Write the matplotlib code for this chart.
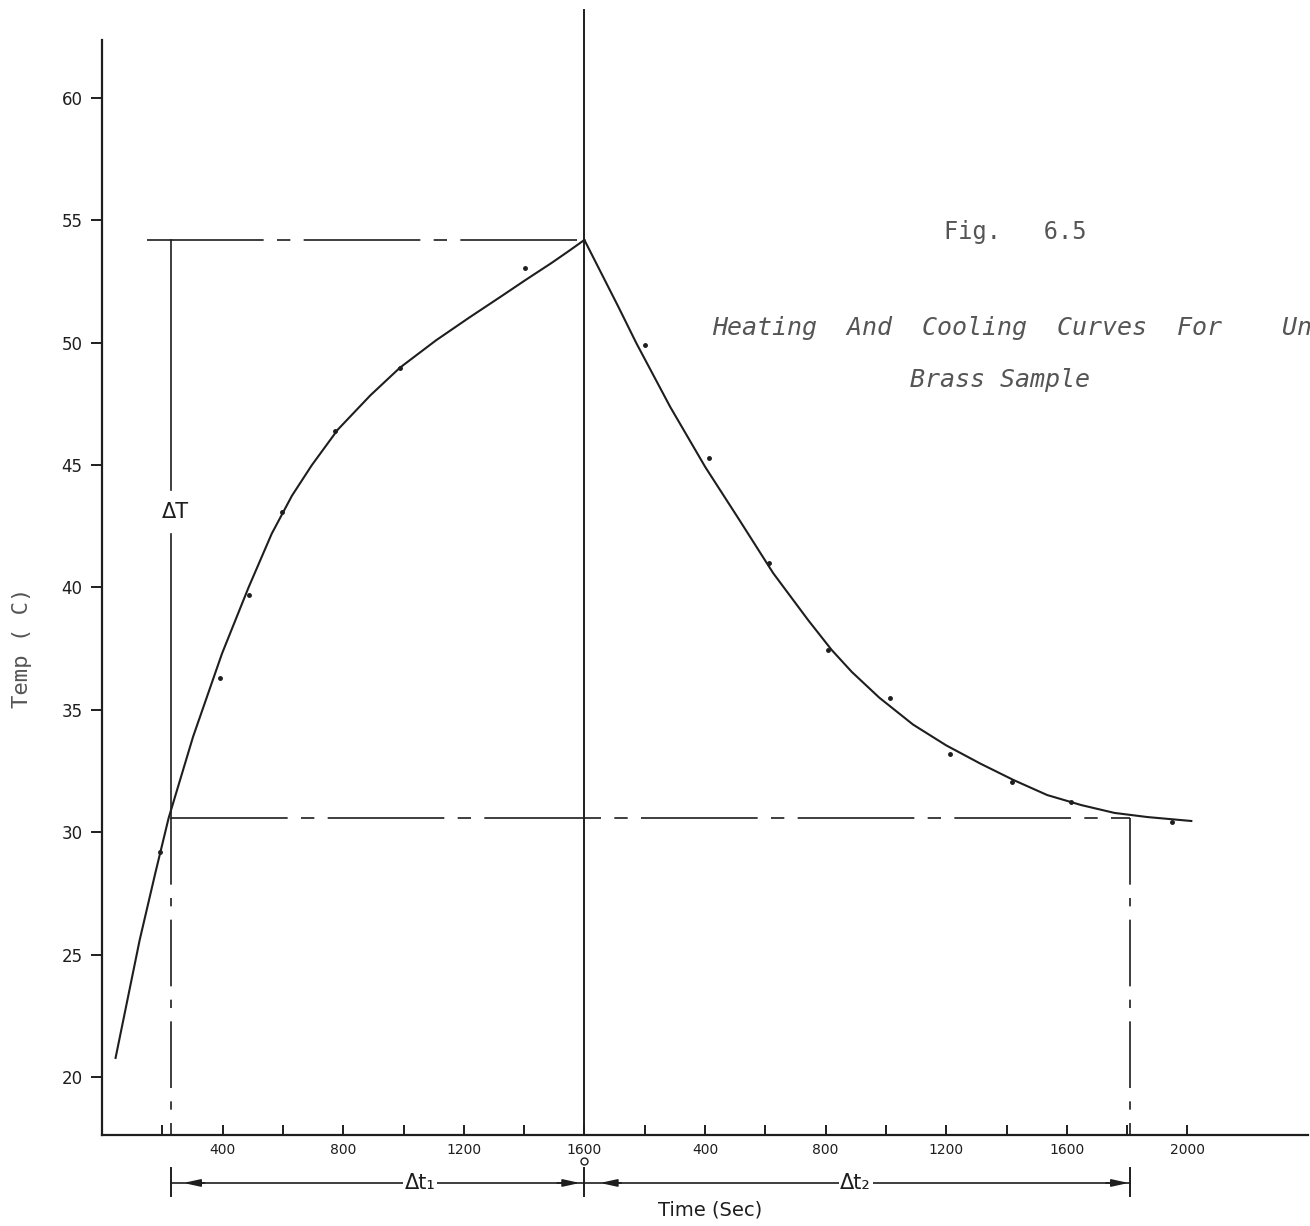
import matplotlib.pyplot as plt

# heating run: time (s) and temperature (C)
heat_t = [45, 125, 177, 221, 302, 398, 486, 563, 630, 696, 782, 890, 988, 1108, 1217,
          1327, 1403, 1491, 1545, 1600]
heat_T = [20.78, 25.6, 28.34, 30.58, 33.9, 37.3, 40.0, 42.2, 43.75, 45.0, 46.45, 47.85,
          48.98, 50.1, 51.02, 51.92, 52.55, 53.26, 53.72, 54.2]
# measured points
heat_pts_t = [193, 392, 486, 598, 772, 988, 1403]
heat_pts_T = [29.2, 36.3, 39.7, 43.1, 46.4, 48.95, 53.05]

# cooling run, time restarts at 0 at the peak
cool_t = [0, 113, 172, 285, 401, 514, 626, 742, 820, 887, 978, 1090, 1200, 1314, 1424,
          1535, 1648, 1758, 1868, 2013]
cool_T = [54.2, 51.46, 49.99, 47.37, 44.92, 42.76, 40.59, 38.67, 37.45, 36.55, 35.5, 34.4,
          33.55, 32.8, 32.13, 31.52, 31.11, 30.79, 30.62, 30.46]
cool_pts_t = [202, 414, 613, 807, 1012, 1214, 1418, 1615, 1948]
cool_pts_T = [49.9, 45.3, 41.0, 37.45, 35.5, 33.2, 32.05, 31.25, 30.4]

t_peak = 1600
T_max = 54.2
T_base = 30.58
t1 = 230     # start of delta t1
t2 = 1810    # end of delta t2 (cooling time)

yticks = [20, 25, 30, 35, 40, 45, 50, 55, 60]
xtick_pos = [400, 800, 1200, 1600, 2000, 2400, 2800, 3200, 3600]
xtick_lab = ['400', '800', '1200', '1600', '400', '800', '1200', '1600', '2000']

ink = '#1e1e1e'
grey = '#555555'
mono = ['DejaVu Sans Mono']

W, H = 1310, 1226
fig = plt.figure(figsize=(W / 100, H / 100), dpi=100)
ax = fig.add_axes([102 / W, (H - 1135) / H, 1206 / W, 1095 / H])
ax.set_xlim(0, 4000)
ax.set_ylim(17.63, 62.37)

for s in ['top', 'right']:
    ax.spines[s].set_visible(False)
for s in ['left', 'bottom']:
    ax.spines[s].set_linewidth(1.6)
    ax.spines[s].set_color(ink)

ax.set_yticks(yticks)
ax.set_yticklabels([str(v) for v in yticks], fontsize=12, color=ink)
ax.tick_params(axis='y', direction='out', length=8, width=1.4, pad=6, colors=ink)

ax.set_xticks(xtick_pos)
ax.set_xticklabels(xtick_lab, fontsize=10, color=ink)
ax.set_xticks(list(range(200, 3700, 200)), minor=True)
ax.tick_params(axis='x', which='both', direction='in', length=7, width=1.4, pad=6, colors=ink)

# curves
cool_x = [t_peak + t for t in cool_t]
ax.plot(heat_t, heat_T, color=ink, lw=1.5)
ax.plot(cool_x, cool_T, color=ink, lw=1.5)
ax.plot(heat_pts_t, heat_pts_T, 'o', color=ink, ms=2.5)
ax.plot([t_peak + t for t in cool_pts_t], cool_pts_T, 'o', color=ink, ms=2.5)

# vertical line at the switch from heating to cooling
ax.plot([t_peak, t_peak], [17.63, 63.6], color=ink, lw=1.4, clip_on=False)

# construction lines
dd = dict(color=ink, lw=1.2, dashes=[70, 8, 8, 8])
ax.plot([150, t_peak], [T_max, T_max], **dd)
ax.plot([t1, t_peak + t2], [T_base, T_base], **dd)
ax.plot([t1, t1], [T_base, 17.63], color=ink, lw=1.2, dashes=[40, 8, 5, 8])
ax.plot([t_peak + t2, t_peak + t2], [T_base, 17.63], color=ink, lw=1.2, dashes=[40, 8, 5, 8])

# delta T
ax.plot([t1, t1], [T_max, 44.0], color=ink, lw=1.2)
ax.plot([t1, t1], [42.2, T_base], color=ink, lw=1.2)
ax.text(t1 + 15, 43.1, 'ΔT', fontsize=15, color=ink, ha='center', va='center')

# delta t arrows below the axis
tr = ax.get_xaxis_transform()
ya = -0.0438
ax.plot([t1, t_peak + t2], [ya, ya], color=ink, lw=1.2, transform=tr, clip_on=False)
for xb in [t1, t_peak, t_peak + t2]:
    ax.plot([xb, xb], [ya + 0.014, ya - 0.012], color=ink, lw=1.4, transform=tr, clip_on=False)
ax.plot([t_peak], [-0.024], 'o', mfc='white', mec=ink, ms=5, transform=tr, clip_on=False)
heads = [(270, 340), (1585, 1510), (1652, 1722), (t_peak + t2 - 5, t_peak + t2 - 80)]
for tip, tail in heads:
    ax.annotate('', xy=(tip, ya), xytext=(tail, ya), xycoords=tr, textcoords=tr,
                arrowprops=dict(arrowstyle='-|>,head_length=1.0,head_width=0.22',
                                color=ink, lw=1.2, shrinkA=0, shrinkB=0))
ax.text(1055, ya, 'Δt₁', transform=tr, fontsize=15, color=ink, ha='center', va='center',
        bbox=dict(fc='white', ec='none', pad=1))
ax.text(2500, ya, 'Δt₂', transform=tr, fontsize=15, color=ink, ha='center', va='center',
        bbox=dict(fc='white', ec='none', pad=1))

# labels and captions
fig.text(710 / W, 1 - 1210 / H, 'Time (Sec)', fontsize=14, color=ink, ha='center', va='center')
fig.text(22 / W, 1 - 648 / H, 'Temp ( C)', fontsize=16, color=grey, ha='center', va='center',
         rotation=90, family=mono)
fig.text(1015 / W, 1 - 232 / H, 'Fig.   6.5', fontsize=17, color=grey, ha='center', va='center',
         family=mono)
fig.text(712 / W, 1 - 328 / H, 'Heating  And  Cooling  Curves  For    Un', fontsize=18,
         color=grey, ha='left', va='center', family=mono, style='italic')
fig.text(1000 / W, 1 - 380 / H, 'Brass Sample', fontsize=18, color=grey, ha='center',
         va='center', family=mono, style='italic')

fig.savefig('out.png', dpi=100)
